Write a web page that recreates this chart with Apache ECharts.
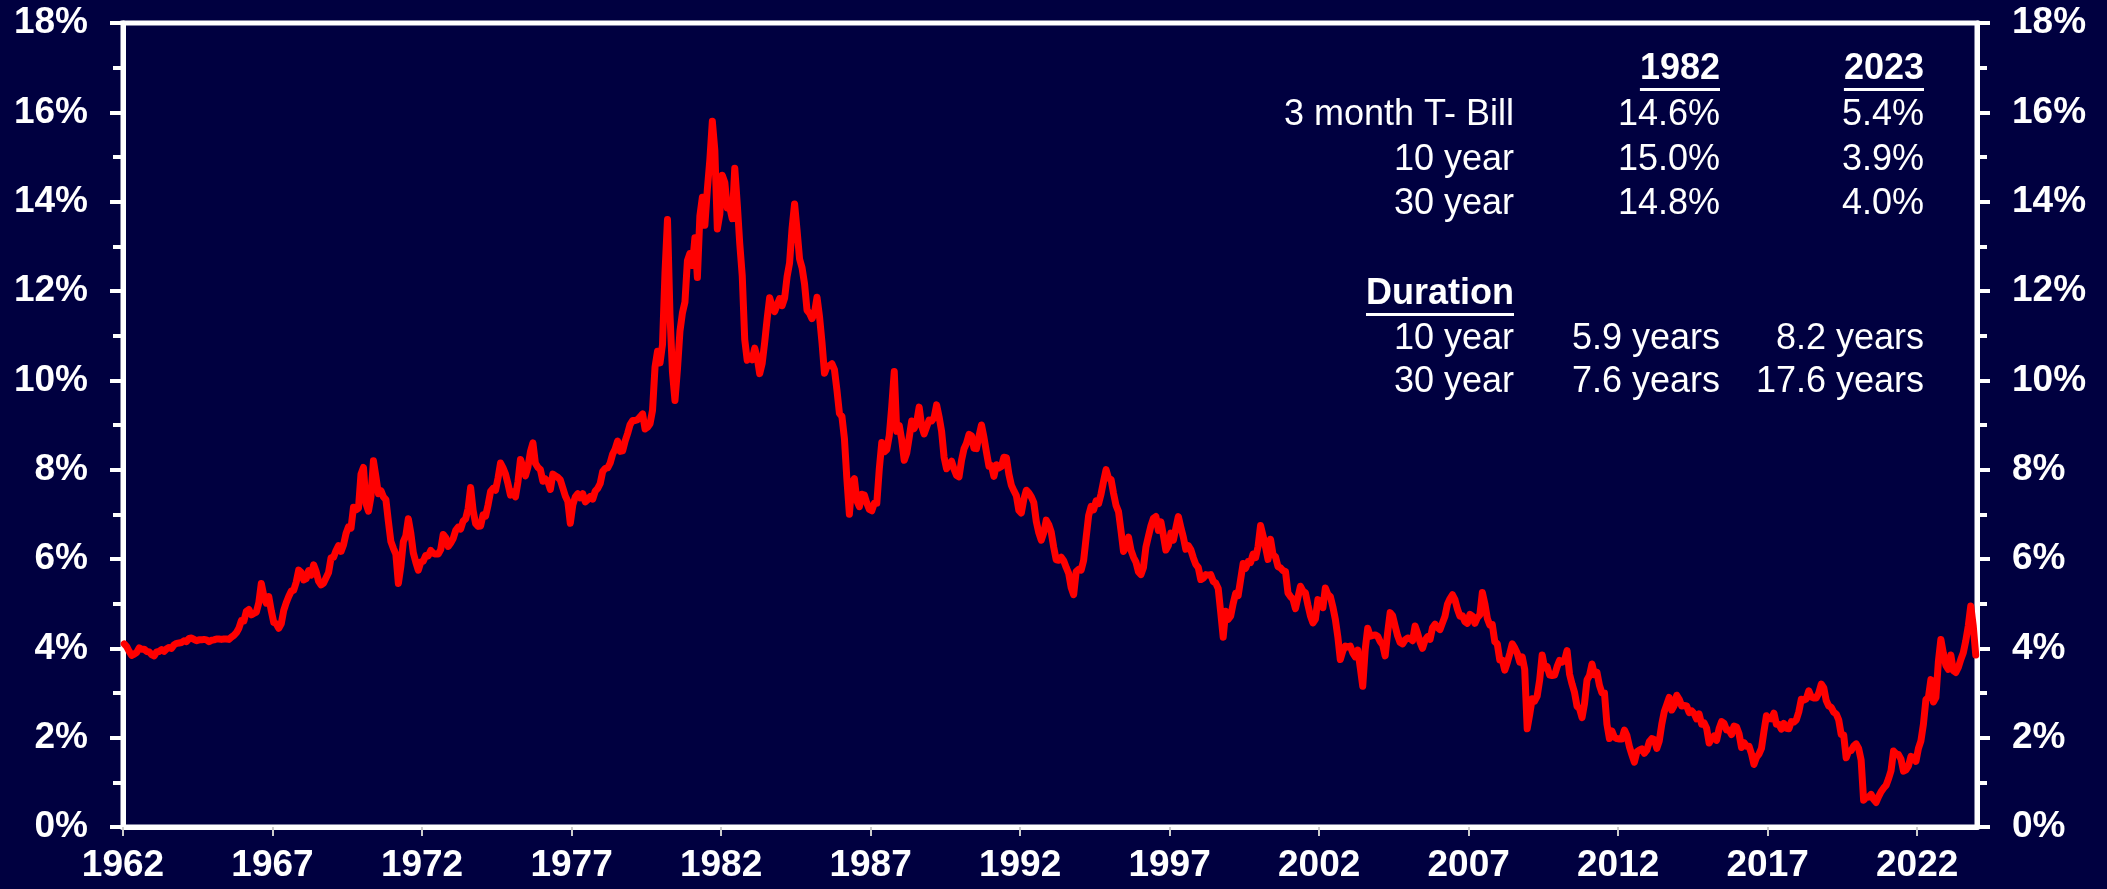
<!DOCTYPE html>
<html lang="en">
  <head>
    <meta charset="UTF-8" />
    <title>10 year Treasury yield</title>
    <script src="https://cdn.jsdelivr.net/npm/echarts@6.0.0/dist/echarts.min.js"></script>
    <style>
      body { margin: 0; background: #000040; }
      #main { width: 2107px; height: 889px; }
    </style>
  </head>
  <body>
    <div id="main"></div>
  </body>
  <script type="text/javascript">
    // monthly yields (%), one row per year
    const firstYear = 1962;
    const monthlyYields = [
      [4.10, 4.04, 3.93, 3.84, 3.87, 3.91, 4.01, 3.98, 3.98, 3.93, 3.92, 3.86],
      [3.83, 3.92, 3.93, 3.97, 3.93, 3.99, 4.02, 4.00, 4.08, 4.11, 4.12, 4.13],
      [4.17, 4.15, 4.22, 4.23, 4.20, 4.17, 4.19, 4.19, 4.20, 4.19, 4.15, 4.18],
      [4.19, 4.21, 4.21, 4.20, 4.21, 4.21, 4.20, 4.25, 4.29, 4.35, 4.45, 4.62],
      [4.61, 4.83, 4.87, 4.75, 4.78, 4.81, 5.02, 5.45, 5.18, 5.01, 5.16, 4.84],
      [4.58, 4.55, 4.45, 4.55, 4.85, 5.02, 5.16, 5.28, 5.30, 5.48, 5.75, 5.70],
      [5.53, 5.56, 5.74, 5.64, 5.87, 5.72, 5.50, 5.42, 5.46, 5.58, 5.70, 6.03],
      [6.04, 6.19, 6.30, 6.17, 6.32, 6.57, 6.72, 6.69, 7.16, 7.10, 7.14, 7.90],
      [8.05, 7.24, 7.07, 7.39, 8.20, 7.84, 7.46, 7.53, 7.39, 7.33, 6.84, 6.39],
      [6.24, 6.11, 5.45, 5.83, 6.39, 6.52, 6.90, 6.58, 6.14, 5.93, 5.75, 5.93],
      [5.95, 6.08, 6.07, 6.19, 6.13, 6.11, 6.11, 6.21, 6.55, 6.48, 6.28, 6.36],
      [6.46, 6.64, 6.71, 6.67, 6.85, 6.90, 7.13, 7.60, 7.09, 6.79, 6.73, 6.74],
      [6.99, 6.96, 7.21, 7.51, 7.58, 7.54, 7.81, 8.15, 8.04, 7.90, 7.68, 7.43],
      [7.50, 7.39, 7.73, 8.23, 8.06, 7.86, 8.06, 8.40, 8.60, 8.14, 8.05, 8.00],
      [7.74, 7.79, 7.73, 7.56, 7.90, 7.86, 7.83, 7.77, 7.59, 7.41, 7.29, 6.80],
      [7.21, 7.39, 7.46, 7.37, 7.46, 7.28, 7.33, 7.40, 7.34, 7.52, 7.58, 7.69],
      [7.96, 8.03, 8.04, 8.15, 8.35, 8.46, 8.64, 8.41, 8.42, 8.64, 8.81, 9.01],
      [9.10, 9.10, 9.12, 9.18, 9.25, 8.91, 8.95, 9.03, 9.33, 10.30, 10.65, 10.39],
      [10.80, 12.41, 13.60, 11.47, 10.18, 9.55, 10.25, 11.10, 11.51, 11.75, 12.68, 12.84],
      [12.57, 13.19, 12.30, 13.68, 14.10, 13.47, 14.28, 14.94, 15.80, 15.15, 13.39, 13.72],
      [14.59, 14.43, 13.86, 13.87, 13.62, 14.75, 13.95, 13.06, 12.34, 10.91, 10.45, 10.54],
      [10.46, 10.72, 10.51, 10.15, 10.38, 10.85, 11.38, 11.85, 11.65, 11.54, 11.69, 11.83],
      [11.67, 11.84, 12.32, 12.63, 13.41, 13.95, 13.36, 12.72, 12.52, 12.16, 11.57, 11.50],
      [11.38, 11.51, 11.86, 11.43, 10.85, 10.16, 10.31, 10.33, 10.37, 10.24, 9.78, 9.26],
      [9.19, 8.70, 7.78, 7.00, 7.71, 7.80, 7.30, 7.17, 7.45, 7.43, 7.25, 7.11],
      [7.08, 7.25, 7.25, 8.02, 8.61, 8.40, 8.45, 8.76, 9.42, 10.20, 8.86, 8.99],
      [8.67, 8.21, 8.37, 8.72, 9.09, 8.92, 9.06, 9.40, 8.98, 8.80, 8.96, 9.11],
      [9.09, 9.17, 9.45, 9.18, 8.86, 8.28, 8.02, 8.11, 8.19, 8.01, 7.87, 7.84],
      [8.21, 8.47, 8.59, 8.79, 8.76, 8.48, 8.47, 8.75, 9.00, 8.72, 8.39, 8.08],
      [8.09, 7.85, 8.11, 8.04, 8.07, 8.28, 8.27, 7.90, 7.65, 7.53, 7.42, 7.09],
      [7.03, 7.34, 7.54, 7.48, 7.39, 7.26, 6.84, 6.59, 6.42, 6.59, 6.87, 6.77],
      [6.60, 6.26, 5.98, 5.97, 6.04, 5.96, 5.81, 5.68, 5.36, 5.20, 5.72, 5.77],
      [5.75, 5.97, 6.48, 6.97, 7.18, 7.10, 7.30, 7.24, 7.46, 7.74, 8.00, 7.81],
      [7.78, 7.47, 7.20, 7.06, 6.63, 6.17, 6.28, 6.49, 6.20, 6.04, 5.93, 5.71],
      [5.65, 5.81, 6.27, 6.51, 6.74, 6.91, 6.95, 6.64, 6.83, 6.53, 6.20, 6.30],
      [6.58, 6.42, 6.69, 6.95, 6.71, 6.49, 6.22, 6.30, 6.21, 6.03, 5.88, 5.81],
      [5.54, 5.57, 5.65, 5.64, 5.65, 5.50, 5.46, 5.34, 4.81, 4.25, 4.83, 4.65],
      [4.72, 5.00, 5.23, 5.18, 5.54, 5.90, 5.79, 5.94, 5.92, 6.11, 6.03, 6.28],
      [6.75, 6.52, 6.26, 5.99, 6.44, 6.10, 6.05, 5.83, 5.80, 5.74, 5.72, 5.24],
      [5.16, 5.10, 4.89, 5.14, 5.39, 5.28, 5.24, 4.97, 4.73, 4.57, 4.65, 5.09],
      [5.04, 4.91, 5.35, 5.21, 5.16, 4.93, 4.65, 4.26, 3.75, 3.94, 4.05, 4.03],
      [4.05, 3.90, 3.81, 3.96, 3.57, 3.15, 3.98, 4.45, 4.27, 4.29, 4.30, 4.27],
      [4.15, 4.08, 3.83, 4.35, 4.80, 4.73, 4.50, 4.28, 4.13, 4.10, 4.19, 4.23],
      [4.22, 4.17, 4.50, 4.34, 4.14, 4.00, 4.18, 4.26, 4.20, 4.46, 4.54, 4.47],
      [4.42, 4.57, 4.72, 4.99, 5.11, 5.20, 5.09, 4.88, 4.72, 4.73, 4.60, 4.56],
      [4.76, 4.72, 4.56, 4.69, 4.75, 5.25, 5.00, 4.67, 4.52, 4.53, 4.15, 4.10],
      [3.74, 3.74, 3.51, 3.68, 3.88, 4.10, 4.01, 3.89, 3.69, 3.81, 3.53, 2.20],
      [2.52, 2.87, 2.82, 2.93, 3.29, 3.85, 3.56, 3.59, 3.40, 3.39, 3.40, 3.59],
      [3.73, 3.69, 3.73, 3.95, 3.42, 3.20, 3.01, 2.70, 2.65, 2.45, 2.76, 3.29],
      [3.39, 3.65, 3.41, 3.46, 3.17, 3.00, 3.00, 2.30, 1.98, 2.15, 2.01, 1.98],
      [1.97, 1.97, 2.17, 2.05, 1.80, 1.62, 1.45, 1.68, 1.72, 1.75, 1.65, 1.72],
      [1.91, 1.98, 1.96, 1.76, 1.93, 2.30, 2.58, 2.74, 2.90, 2.62, 2.72, 2.95],
      [2.86, 2.71, 2.72, 2.71, 2.56, 2.60, 2.54, 2.42, 2.53, 2.30, 2.33, 2.21],
      [1.88, 1.98, 2.04, 1.94, 2.20, 2.36, 2.32, 2.17, 2.17, 2.07, 2.26, 2.24],
      [2.09, 1.78, 1.89, 1.81, 1.81, 1.64, 1.40, 1.56, 1.63, 1.76, 2.14, 2.49],
      [2.43, 2.42, 2.55, 2.30, 2.30, 2.19, 2.32, 2.21, 2.20, 2.36, 2.35, 2.40],
      [2.58, 2.86, 2.84, 2.87, 3.05, 2.91, 2.89, 2.89, 3.00, 3.20, 3.12, 2.83],
      [2.71, 2.68, 2.57, 2.53, 2.40, 2.07, 2.06, 1.55, 1.70, 1.71, 1.81, 1.86],
      [1.76, 1.50, 0.60, 0.66, 0.67, 0.73, 0.62, 0.55, 0.68, 0.79, 0.87, 0.93],
      [1.08, 1.26, 1.70, 1.64, 1.62, 1.52, 1.25, 1.28, 1.37, 1.58, 1.56, 1.47],
      [1.76, 1.93, 2.30, 2.85, 2.90, 3.30, 2.80, 2.90, 3.70, 4.20, 3.89, 3.62],
      [3.53, 3.85, 3.50, 3.46, 3.57, 3.75, 3.90, 4.17, 4.50, 4.95, 4.50, 3.85]
    ];

    const tableHeader = ["1982", "2023"];
    const rateRows = [
      ["3 month T- Bill", "14.6%", "5.4%"],
      ["10 year", "15.0%", "3.9%"],
      ["30 year", "14.8%", "4.0%"]
    ];
    const durationTitle = "Duration";
    const durationRows = [
      ["10 year", "5.9 years", "8.2 years"],
      ["30 year", "7.6 years", "17.6 years"]
    ];

    const seriesData = [];
    monthlyYields.forEach(function (row, i) {
      row.forEach(function (v, m) {
        seriesData.push([firstYear + i + (m + 0.5) / 12, v]);
      });
    });

    // table layout
    const colRight = [1514, 1720, 1924];
    const fontFam = "'Liberation Sans', Arial, sans-serif";
    const ctx = document.createElement("canvas").getContext("2d");
    function textW(t, bold) {
      ctx.font = (bold ? "bold " : "") + "36px " + fontFam;
      return ctx.measureText(t).width;
    }
    const graphics = [];
    function addText(t, x, baseline, bold) {
      graphics.push({
        type: "text",
        x: x,
        y: baseline - 13,
        style: {
          text: t,
          fill: "#fff",
          font: (bold ? "bold " : "") + "36px " + fontFam,
          align: "right",
          verticalAlign: "middle"
        }
      });
    }
    function addUnderline(t, x, baseline) {
      const w = textW(t, true);
      graphics.push({
        type: "rect",
        shape: { x: x - w, y: baseline + 6, width: w, height: 3 },
        style: { fill: "#fff" }
      });
    }
    tableHeader.forEach(function (h, i) {
      addText(h, colRight[i + 1], 82, true);
      addUnderline(h, colRight[i + 1], 82);
    });
    const rateBase = [128, 173, 217];
    rateRows.forEach(function (r, i) {
      r.forEach(function (t, j) { addText(t, colRight[j], rateBase[i], false); });
    });
    addText(durationTitle, colRight[0], 307, true);
    addUnderline(durationTitle, colRight[0], 307);
    const durBase = [352, 395];
    durationRows.forEach(function (r, i) {
      r.forEach(function (t, j) { addText(t, colRight[j], durBase[i], false); });
    });

    const labelStyle = {
      color: "#fff",
      fontFamily: fontFam,
      fontWeight: "bold",
      fontSize: 37
    };

    function yAxisFor(pos) {
      return {
        type: "value",
        position: pos,
        min: 0,
        max: 18,
        interval: 2,
        splitLine: { show: false },
        axisLine: { show: true, lineStyle: { color: "#fff", width: 5 } },
        axisTick: { show: true, length: 13, lineStyle: { color: "#fff", width: 4 } },
        minorTick: { show: true, splitNumber: 2, length: 10, lineStyle: { color: "#fff", width: 4 } },
        axisLabel: Object.assign({ margin: 35, formatter: "{value}%" }, labelStyle)
      };
    }

    var myChart = echarts.init(document.getElementById("main"));
    var option = {
      animation: false,
      backgroundColor: "#000040",
      grid: {
        left: 123,
        right: 130,
        top: 23,
        bottom: 62,
        show: true,
        borderColor: "#fff",
        borderWidth: 5,
        backgroundColor: "transparent"
      },
      xAxis: {
        type: "value",
        min: 1962,
        max: 2024,
        interval: 5,
        splitLine: { show: false },
        axisLine: { lineStyle: { color: "#fff", width: 5 } },
        axisTick: { length: 9, lineStyle: { color: "#ccc", width: 2 } },
        axisLabel: Object.assign({
          margin: 20,
          showMaxLabel: false,
          formatter: function (v) { return (v - 1962) % 5 === 0 ? String(v) : ""; }
        }, labelStyle)
      },
      yAxis: [yAxisFor("left"), yAxisFor("right")],
      series: [
        {
          type: "line",
          data: seriesData,
          showSymbol: false,
          lineStyle: { color: "#ff0000", width: 7, cap: "round", join: "round" }
        }
      ],
      graphic: graphics
    };
    option && myChart.setOption(option);
  </script>
</html>
